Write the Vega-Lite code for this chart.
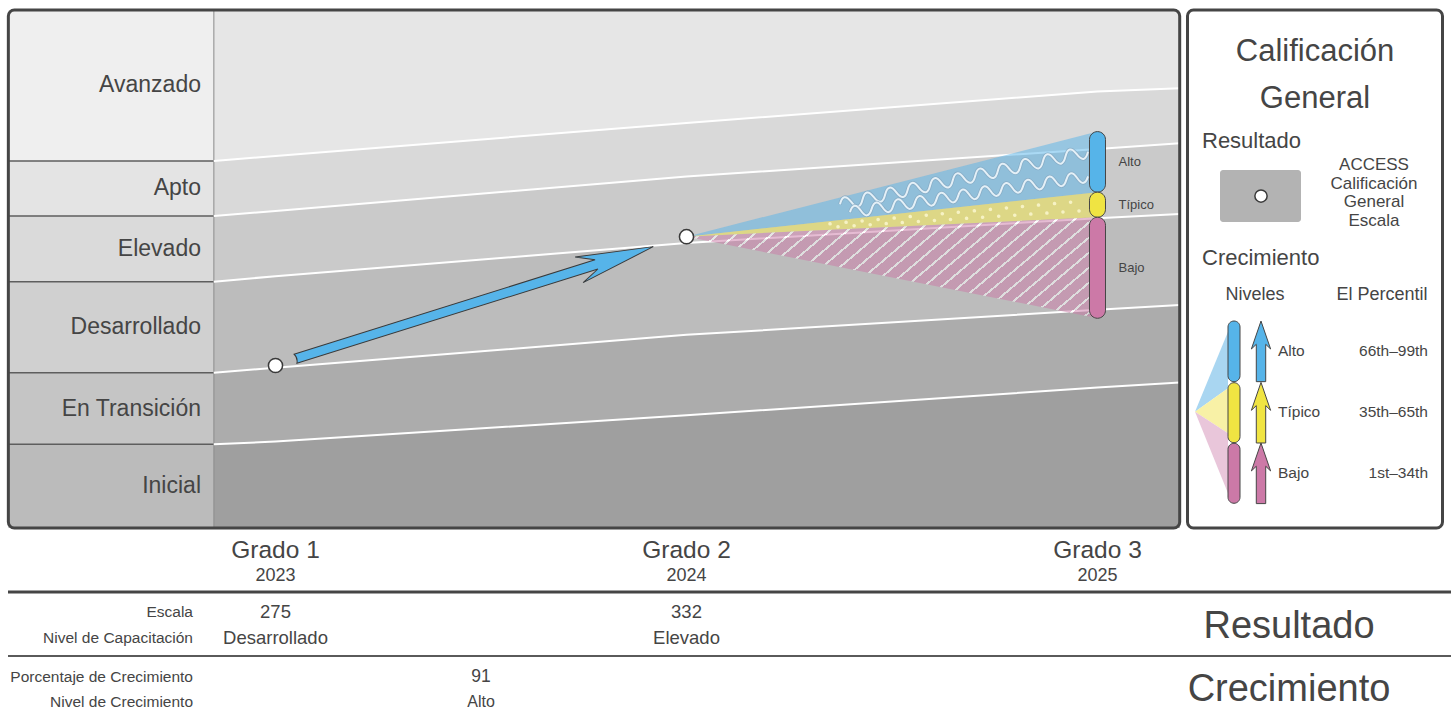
{
  "$schema": "https://vega.github.io/schema/vega-lite/v6.json",
  "width": 1451,
  "height": 715,
  "padding": 0,
  "autosize": {"type": "none"},
  "background": "#ffffff",
  "config": {
    "view": {"stroke": null},
    "axis": {"disable": true},
    "legend": {"disable": true},
    "text": {"font": "Liberation Sans", "color": "#454545"}
  },
  "resolve": {"scale": {"color": "independent"}},
  "datasets": {
    "bands": [
      {"level": "Avanzado", "g": 0.85, "lo": 365.53, "hi": 432.3},
      {"level": "Avanzado", "g": 1, "lo": 367.74, "hi": 432.3},
      {"level": "Avanzado", "g": 2, "lo": 382.3, "hi": 432.3},
      {"level": "Avanzado", "g": 3, "lo": 396.28, "hi": 432.3},
      {"level": "Avanzado", "g": 3.2, "lo": 397.65, "hi": 432.3},
      {"level": "Apto", "g": 0.85, "lo": 341.15, "hi": 365.53},
      {"level": "Apto", "g": 1, "lo": 343.41, "hi": 367.74},
      {"level": "Apto", "g": 2, "lo": 358.63, "hi": 382.3},
      {"level": "Apto", "g": 3, "lo": 370.84, "hi": 396.28},
      {"level": "Apto", "g": 3.2, "lo": 373.36, "hi": 397.65},
      {"level": "Elevado", "g": 0.85, "lo": 312.08, "hi": 341.15},
      {"level": "Elevado", "g": 1, "lo": 314.51, "hi": 343.41},
      {"level": "Elevado", "g": 2, "lo": 329.2, "hi": 358.63},
      {"level": "Elevado", "g": 3, "lo": 340.18, "hi": 370.84},
      {"level": "Elevado", "g": 3.2, "lo": 342.04, "hi": 373.36},
      {"level": "Desarrollado", "g": 0.85, "lo": 271.81, "hi": 312.08},
      {"level": "Desarrollado", "g": 1, "lo": 273.98, "hi": 314.51},
      {"level": "Desarrollado", "g": 2, "lo": 288.56, "hi": 329.2},
      {"level": "Desarrollado", "g": 3, "lo": 299.65, "hi": 340.18},
      {"level": "Desarrollado", "g": 3.2, "lo": 301.81, "hi": 342.04},
      {"level": "En Transición", "g": 0.85, "lo": 240.13, "hi": 271.81},
      {"level": "En Transición", "g": 1, "lo": 241.37, "hi": 273.98},
      {"level": "En Transición", "g": 2, "lo": 252.96, "hi": 288.56},
      {"level": "En Transición", "g": 3, "lo": 265.22, "hi": 299.65},
      {"level": "En Transición", "g": 3.2, "lo": 267.43, "hi": 301.81},
      {"level": "Inicial", "g": 0.85, "lo": 203.1, "hi": 240.13},
      {"level": "Inicial", "g": 1, "lo": 203.1, "hi": 241.37},
      {"level": "Inicial", "g": 2, "lo": 203.1, "hi": 252.96},
      {"level": "Inicial", "g": 3, "lo": 203.1, "hi": 265.22},
      {"level": "Inicial", "g": 3.2, "lo": 203.1, "hi": 267.43}
    ],
    "growth": [
      {"level": "Alto", "g": 2, "lo": 332, "hi": 332},
      {"level": "Alto", "g": 3, "lo": 351.7, "hi": 378.5},
      {"level": "Típico", "g": 2, "lo": 332, "hi": 332},
      {"level": "Típico", "g": 3, "lo": 340.6, "hi": 351.7},
      {"level": "Bajo", "g": 2, "lo": 332, "hi": 332},
      {"level": "Bajo", "g": 3, "lo": 295.9, "hi": 340.6}
    ],
    "student": [
      {"g": 1, "grado": "Grado 1", "year": "2023", "score": 275, "nivel": "Desarrollado"},
      {"g": 2, "grado": "Grado 2", "year": "2024", "score": 332, "nivel": "Elevado"},
      {"g": 3, "grado": "Grado 3", "year": "2025", "score": null, "nivel": ""}
    ]
  },
  "layer": [
    {
      "data": {"name": "bands"},
      "mark": {"type": "area"},
      "encoding": {
        "x": {"field": "g", "type": "quantitative", "scale": {"domain": [0.32968, 3.8601], "nice": false, "zero": false, "padding": 0}},
        "y": {"field": "hi", "type": "quantitative", "scale": {"domain": [120.35, 436.73], "nice": false, "zero": false, "padding": 0}},
        "y2": {"field": "lo"},
        "color": {"field": "level", "type": "nominal", "scale": {"domain": ["Avanzado", "Apto", "Elevado", "Desarrollado", "En Transición", "Inicial"], "range": ["#e6e6e6", "#d9d9d9", "#cacaca", "#bcbcbc", "#acacac", "#9f9f9f"]}}
      }
    },
    {
      "data": {"name": "bands"},
      "transform": [{"filter": "datum.g == 0.85"}],
      "mark": {"type": "rect"},
      "encoding": {
        "x": {"datum": 0.35, "type": "quantitative"},
        "x2": {"datum": 0.85},
        "y": {"field": "hi", "type": "quantitative"},
        "y2": {"field": "lo"},
        "color": {"field": "level", "type": "nominal", "scale": {"domain": ["Avanzado", "Apto", "Elevado", "Desarrollado", "En Transición", "Inicial"], "range": ["#efefef", "#e4e4e4", "#dadada", "#d0d0d0", "#c5c5c5", "#bbbbbb"]}}
      }
    },
    {
      "data": {"name": "bands"},
      "transform": [{"filter": "datum.g == 0.85 && datum.level != 'Inicial'"}],
      "mark": {"type": "rule", "color": "#5e5e5e", "strokeWidth": 1.5},
      "encoding": {
        "x": {"datum": 0.35, "type": "quantitative"},
        "x2": {"datum": 0.85},
        "y": {"field": "lo", "type": "quantitative"}
      }
    },
    {
      "data": {"values": [{}]},
      "mark": {"type": "rule", "color": "#8a8a8a", "strokeWidth": 1},
      "encoding": {
        "x": {"datum": 0.85, "type": "quantitative"},
        "y": {"datum": 203.1, "type": "quantitative"},
        "y2": {"datum": 432.3}
      }
    },
    {
      "data": {"name": "bands"},
      "transform": [{"filter": "datum.g == 0.85"}, {"fold": ["lo", "hi"], "as": ["k", "v"]}],
      "mark": {"type": "text", "align": "right", "baseline": "middle", "fontSize": 23},
      "encoding": {
        "x": {"datum": 0.81873, "type": "quantitative"},
        "y": {"aggregate": "mean", "field": "v", "type": "quantitative"},
        "text": {"field": "level"}
      }
    },
    {
      "data": {"name": "bands"},
      "transform": [{"filter": "datum.level != 'Inicial'"}],
      "mark": {"type": "line", "color": "#ffffff", "strokeWidth": 2},
      "encoding": {
        "x": {"field": "g", "type": "quantitative"},
        "y": {"field": "lo", "type": "quantitative"},
        "detail": {"field": "level"}
      }
    },
    {
      "data": {"name": "growth"},
      "transform": [{"filter": "datum.level != 'Bajo'"}],
      "mark": {"type": "area", "fillOpacity": 0.5},
      "encoding": {
        "x": {"field": "g", "type": "quantitative"},
        "y": {"field": "hi", "type": "quantitative"},
        "y2": {"field": "lo"},
        "color": {"field": "level", "type": "nominal", "scale": {"domain": ["Alto", "Típico"], "range": ["#56b4e9", "#f0e442"]}}
      }
    },
    {
      "data": {"name": "growth"},
      "transform": [{"filter": "datum.level == 'Bajo'"}],
      "mark": {
        "type": "area",
        "fillOpacity": 0.5,
        "fill": {
          "gradient": "linear", "x1": 0, "y1": 0, "x2": 1.2, "y2": 0.3496,
          "stops": [
            {"offset": 0, "color": "#cc79a7"}, {"offset": 0.02767, "color": "#cc79a7"}, {"offset": 0.02767, "color": "#ffffff"}, {"offset": 0.03333, "color": "#ffffff"},
            {"offset": 0.03333, "color": "#cc79a7"}, {"offset": 0.061, "color": "#cc79a7"}, {"offset": 0.061, "color": "#ffffff"}, {"offset": 0.06667, "color": "#ffffff"},
            {"offset": 0.06667, "color": "#cc79a7"}, {"offset": 0.09433, "color": "#cc79a7"}, {"offset": 0.09433, "color": "#ffffff"}, {"offset": 0.1, "color": "#ffffff"},
            {"offset": 0.1, "color": "#cc79a7"}, {"offset": 0.12767, "color": "#cc79a7"}, {"offset": 0.12767, "color": "#ffffff"}, {"offset": 0.13333, "color": "#ffffff"},
            {"offset": 0.13333, "color": "#cc79a7"}, {"offset": 0.161, "color": "#cc79a7"}, {"offset": 0.161, "color": "#ffffff"}, {"offset": 0.16667, "color": "#ffffff"},
            {"offset": 0.16667, "color": "#cc79a7"}, {"offset": 0.19433, "color": "#cc79a7"}, {"offset": 0.19433, "color": "#ffffff"}, {"offset": 0.2, "color": "#ffffff"},
            {"offset": 0.2, "color": "#cc79a7"}, {"offset": 0.22767, "color": "#cc79a7"}, {"offset": 0.22767, "color": "#ffffff"}, {"offset": 0.23333, "color": "#ffffff"},
            {"offset": 0.23333, "color": "#cc79a7"}, {"offset": 0.261, "color": "#cc79a7"}, {"offset": 0.261, "color": "#ffffff"}, {"offset": 0.26667, "color": "#ffffff"},
            {"offset": 0.26667, "color": "#cc79a7"}, {"offset": 0.29433, "color": "#cc79a7"}, {"offset": 0.29433, "color": "#ffffff"}, {"offset": 0.3, "color": "#ffffff"},
            {"offset": 0.3, "color": "#cc79a7"}, {"offset": 0.32767, "color": "#cc79a7"}, {"offset": 0.32767, "color": "#ffffff"}, {"offset": 0.33333, "color": "#ffffff"},
            {"offset": 0.33333, "color": "#cc79a7"}, {"offset": 0.361, "color": "#cc79a7"}, {"offset": 0.361, "color": "#ffffff"}, {"offset": 0.36667, "color": "#ffffff"},
            {"offset": 0.36667, "color": "#cc79a7"}, {"offset": 0.39433, "color": "#cc79a7"}, {"offset": 0.39433, "color": "#ffffff"}, {"offset": 0.4, "color": "#ffffff"},
            {"offset": 0.4, "color": "#cc79a7"}, {"offset": 0.42767, "color": "#cc79a7"}, {"offset": 0.42767, "color": "#ffffff"}, {"offset": 0.43333, "color": "#ffffff"},
            {"offset": 0.43333, "color": "#cc79a7"}, {"offset": 0.461, "color": "#cc79a7"}, {"offset": 0.461, "color": "#ffffff"}, {"offset": 0.46667, "color": "#ffffff"},
            {"offset": 0.46667, "color": "#cc79a7"}, {"offset": 0.49433, "color": "#cc79a7"}, {"offset": 0.49433, "color": "#ffffff"}, {"offset": 0.5, "color": "#ffffff"},
            {"offset": 0.5, "color": "#cc79a7"}, {"offset": 0.52767, "color": "#cc79a7"}, {"offset": 0.52767, "color": "#ffffff"}, {"offset": 0.53333, "color": "#ffffff"},
            {"offset": 0.53333, "color": "#cc79a7"}, {"offset": 0.561, "color": "#cc79a7"}, {"offset": 0.561, "color": "#ffffff"}, {"offset": 0.56667, "color": "#ffffff"},
            {"offset": 0.56667, "color": "#cc79a7"}, {"offset": 0.59433, "color": "#cc79a7"}, {"offset": 0.59433, "color": "#ffffff"}, {"offset": 0.6, "color": "#ffffff"},
            {"offset": 0.6, "color": "#cc79a7"}, {"offset": 0.62767, "color": "#cc79a7"}, {"offset": 0.62767, "color": "#ffffff"}, {"offset": 0.63333, "color": "#ffffff"},
            {"offset": 0.63333, "color": "#cc79a7"}, {"offset": 0.661, "color": "#cc79a7"}, {"offset": 0.661, "color": "#ffffff"}, {"offset": 0.66667, "color": "#ffffff"},
            {"offset": 0.66667, "color": "#cc79a7"}, {"offset": 0.69433, "color": "#cc79a7"}, {"offset": 0.69433, "color": "#ffffff"}, {"offset": 0.7, "color": "#ffffff"},
            {"offset": 0.7, "color": "#cc79a7"}, {"offset": 0.72767, "color": "#cc79a7"}, {"offset": 0.72767, "color": "#ffffff"}, {"offset": 0.73333, "color": "#ffffff"},
            {"offset": 0.73333, "color": "#cc79a7"}, {"offset": 0.761, "color": "#cc79a7"}, {"offset": 0.761, "color": "#ffffff"}, {"offset": 0.76667, "color": "#ffffff"},
            {"offset": 0.76667, "color": "#cc79a7"}, {"offset": 0.79433, "color": "#cc79a7"}, {"offset": 0.79433, "color": "#ffffff"}, {"offset": 0.8, "color": "#ffffff"},
            {"offset": 0.8, "color": "#cc79a7"}, {"offset": 0.82767, "color": "#cc79a7"}, {"offset": 0.82767, "color": "#ffffff"}, {"offset": 0.83333, "color": "#ffffff"},
            {"offset": 0.83333, "color": "#cc79a7"}, {"offset": 0.861, "color": "#cc79a7"}, {"offset": 0.861, "color": "#ffffff"}, {"offset": 0.86667, "color": "#ffffff"},
            {"offset": 0.86667, "color": "#cc79a7"}, {"offset": 0.89433, "color": "#cc79a7"}, {"offset": 0.89433, "color": "#ffffff"}, {"offset": 0.9, "color": "#ffffff"},
            {"offset": 0.9, "color": "#cc79a7"}, {"offset": 0.92767, "color": "#cc79a7"}, {"offset": 0.92767, "color": "#ffffff"}, {"offset": 0.93333, "color": "#ffffff"},
            {"offset": 0.93333, "color": "#cc79a7"}, {"offset": 0.961, "color": "#cc79a7"}, {"offset": 0.961, "color": "#ffffff"}, {"offset": 0.96667, "color": "#ffffff"},
            {"offset": 0.96667, "color": "#cc79a7"}, {"offset": 0.99433, "color": "#cc79a7"}, {"offset": 0.99433, "color": "#ffffff"}, {"offset": 1, "color": "#ffffff"}
          ]
        }
      },
      "encoding": {
        "x": {"field": "g", "type": "quantitative"},
        "y": {"field": "hi", "type": "quantitative"},
        "y2": {"field": "lo"}
      }
    },
    {
      "data": {"values": [{"row": "Alto 1"}]},
      "mark": {"type": "point", "shape": "M-1,0Q-0.95455,-0.0947,-0.90909,0Q-0.86364,0.0947,-0.81818,0Q-0.77273,-0.0947,-0.72727,0Q-0.68182,0.0947,-0.63636,0Q-0.59091,-0.0947,-0.54545,0Q-0.5,0.0947,-0.45455,0Q-0.40909,-0.0947,-0.36364,0Q-0.31818,0.0947,-0.27273,0Q-0.22727,-0.0947,-0.18182,0Q-0.13636,0.0947,-0.09091,0Q-0.04545,-0.0947,0,0Q0.04545,0.0947,0.09091,0Q0.13636,-0.0947,0.18182,0Q0.22727,0.0947,0.27273,0Q0.31818,-0.0947,0.36364,0Q0.40909,0.0947,0.45455,0Q0.5,-0.0947,0.54545,0Q0.59091,0.0947,0.63636,0Q0.68182,-0.0947,0.72727,0Q0.77273,0.0947,0.81818,0Q0.86364,-0.0947,0.90909,0Q0.95455,0.0947,1,0", "size": 64262, "angle": 348.06, "filled": false, "fill": null, "stroke": "#86a9c2", "strokeWidth": 3.6, "opacity": 0.8},
      "encoding": {"x": {"datum": 2.67518, "type": "quantitative"}, "y": {"datum": 357.94, "type": "quantitative"}}
    },
    {
      "data": {"values": [{"row": "Alto 1"}]},
      "mark": {"type": "point", "shape": "M-1,0Q-0.95455,-0.0947,-0.90909,0Q-0.86364,0.0947,-0.81818,0Q-0.77273,-0.0947,-0.72727,0Q-0.68182,0.0947,-0.63636,0Q-0.59091,-0.0947,-0.54545,0Q-0.5,0.0947,-0.45455,0Q-0.40909,-0.0947,-0.36364,0Q-0.31818,0.0947,-0.27273,0Q-0.22727,-0.0947,-0.18182,0Q-0.13636,0.0947,-0.09091,0Q-0.04545,-0.0947,0,0Q0.04545,0.0947,0.09091,0Q0.13636,-0.0947,0.18182,0Q0.22727,0.0947,0.27273,0Q0.31818,-0.0947,0.36364,0Q0.40909,0.0947,0.45455,0Q0.5,-0.0947,0.54545,0Q0.59091,0.0947,0.63636,0Q0.68182,-0.0947,0.72727,0Q0.77273,0.0947,0.81818,0Q0.86364,-0.0947,0.90909,0Q0.95455,0.0947,1,0", "size": 64262, "angle": 348.06, "filled": false, "fill": null, "stroke": "#e4f0f7", "strokeWidth": 2, "opacity": 1},
      "encoding": {"x": {"datum": 2.67518, "type": "quantitative"}, "y": {"datum": 357.94, "type": "quantitative"}}
    },
    {
      "data": {"values": [{"row": "Alto 2"}]},
      "mark": {"type": "point", "shape": "M-1,0Q-0.95455,-0.0947,-0.90909,0Q-0.86364,0.0947,-0.81818,0Q-0.77273,-0.0947,-0.72727,0Q-0.68182,0.0947,-0.63636,0Q-0.59091,-0.0947,-0.54545,0Q-0.5,0.0947,-0.45455,0Q-0.40909,-0.0947,-0.36364,0Q-0.31818,0.0947,-0.27273,0Q-0.22727,-0.0947,-0.18182,0Q-0.13636,0.0947,-0.09091,0Q-0.04545,-0.0947,0,0Q0.04545,0.0947,0.09091,0Q0.13636,-0.0947,0.18182,0Q0.22727,0.0947,0.27273,0Q0.31818,-0.0947,0.36364,0Q0.40909,0.0947,0.45455,0Q0.5,-0.0947,0.54545,0Q0.59091,0.0947,0.63636,0Q0.68182,-0.0947,0.72727,0Q0.77273,0.0947,0.81818,0Q0.86364,-0.0947,0.90909,0Q0.95455,0.0947,1,0", "size": 57936, "angle": 351.46, "filled": false, "fill": null, "stroke": "#86a9c2", "strokeWidth": 3.6, "opacity": 0.8},
      "encoding": {"x": {"datum": 2.68735, "type": "quantitative"}, "y": {"datum": 350.76, "type": "quantitative"}}
    },
    {
      "data": {"values": [{"row": "Alto 2"}]},
      "mark": {"type": "point", "shape": "M-1,0Q-0.95455,-0.0947,-0.90909,0Q-0.86364,0.0947,-0.81818,0Q-0.77273,-0.0947,-0.72727,0Q-0.68182,0.0947,-0.63636,0Q-0.59091,-0.0947,-0.54545,0Q-0.5,0.0947,-0.45455,0Q-0.40909,-0.0947,-0.36364,0Q-0.31818,0.0947,-0.27273,0Q-0.22727,-0.0947,-0.18182,0Q-0.13636,0.0947,-0.09091,0Q-0.04545,-0.0947,0,0Q0.04545,0.0947,0.09091,0Q0.13636,-0.0947,0.18182,0Q0.22727,0.0947,0.27273,0Q0.31818,-0.0947,0.36364,0Q0.40909,0.0947,0.45455,0Q0.5,-0.0947,0.54545,0Q0.59091,0.0947,0.63636,0Q0.68182,-0.0947,0.72727,0Q0.77273,0.0947,0.81818,0Q0.86364,-0.0947,0.90909,0Q0.95455,0.0947,1,0", "size": 57936, "angle": 351.46, "filled": false, "fill": null, "stroke": "#e4f0f7", "strokeWidth": 2, "opacity": 1},
      "encoding": {"x": {"datum": 2.68735, "type": "quantitative"}, "y": {"datum": 350.76, "type": "quantitative"}}
    },
    {
      "data": {"values": [{"row": "Típico 1"}]},
      "mark": {"type": "rule", "color": "#f6f2c4", "strokeWidth": 3.5, "strokeCap": "round", "strokeDash": [0.1, 16]},
      "encoding": {"x": {"datum": 2.34915, "type": "quantitative"}, "x2": {"datum": 2.96959}, "y": {"datum": 337.7, "type": "quantitative"}, "y2": {"datum": 347.85}}
    },
    {
      "data": {"values": [{"row": "Típico 2"}]},
      "mark": {"type": "rule", "color": "#f6f2c4", "strokeWidth": 3.5, "strokeCap": "round", "strokeDash": [0.1, 16]},
      "encoding": {"x": {"datum": 2.36861, "type": "quantitative"}, "x2": {"datum": 2.96959}, "y": {"datum": 336.38, "type": "quantitative"}, "y2": {"datum": 343.56}}
    },
    {
      "data": {"name": "growth"},
      "transform": [{"filter": "datum.g == 3"}],
      "mark": {"type": "bar", "width": 16, "cornerRadius": 8, "stroke": "#454545", "strokeWidth": 1},
      "encoding": {
        "x": {"field": "g", "type": "quantitative"},
        "y": {"field": "hi", "type": "quantitative"},
        "y2": {"field": "lo"},
        "color": {"field": "level", "type": "nominal", "scale": {"domain": ["Alto", "Típico", "Bajo"], "range": ["#56b4e9", "#f0e442", "#cc79a7"]}}
      }
    },
    {
      "data": {"name": "growth"},
      "transform": [{"filter": "datum.g == 3"}, {"fold": ["lo", "hi"], "as": ["k", "v"]}],
      "mark": {"type": "text", "align": "left", "baseline": "middle", "dx": 21, "fontSize": 13},
      "encoding": {
        "x": {"field": "g", "type": "quantitative"},
        "y": {"aggregate": "mean", "field": "v", "type": "quantitative"},
        "text": {"field": "level"}
      }
    },
    {
      "data": {"values": [{"desde": "Grado 1", "hasta": "Grado 2"}]},
      "mark": {"type": "point", "shape": "M1,0L0.5856,-0.0715L0.6827,-0.0256L-1,-0.0256Q-0.985,0,-1,0.0256L0.6827,0.0256L0.5856,0.0715Z", "size": 140625, "angle": 342.6, "filled": true, "fill": "#56b4e9", "stroke": "#3a3a3a", "strokeWidth": 1, "opacity": 1},
      "encoding": {
        "x": {"datum": 1.48382, "type": "quantitative"},
        "y": {"datum": 302.79, "type": "quantitative"}
      }
    },
    {
      "data": {"name": "student"},
      "transform": [{"filter": "isValid(datum.score)"}],
      "mark": {"type": "point", "shape": "circle", "size": 200, "filled": true, "fill": "#ffffff", "stroke": "#3a3a3a", "strokeWidth": 1.5, "opacity": 1},
      "encoding": {
        "x": {"field": "g", "type": "quantitative"},
        "y": {"field": "score", "type": "quantitative"}
      }
    },
    {
      "data": {"values": [{}]},
      "mark": {"type": "rect", "filled": false, "stroke": "#454545", "strokeWidth": 3, "cornerRadius": 6},
      "encoding": {
        "x": {"datum": 0.35, "type": "quantitative"},
        "x2": {"datum": 3.2},
        "y": {"datum": 432.3, "type": "quantitative"},
        "y2": {"datum": 203.1}
      }
    },
    {
      "data": {"values": [{}]},
      "mark": {"type": "rect", "fill": "#ffffff", "stroke": "#454545", "strokeWidth": 3, "cornerRadius": 6},
      "encoding": {
        "x": {"datum": 3.21898, "type": "quantitative"},
        "x2": {"datum": 3.83942},
        "y": {"datum": 432.3, "type": "quantitative"},
        "y2": {"datum": 203.1}
      }
    },
    {
      "data": {"values": [{"t": "Calificación"}]},
      "mark": {"type": "text", "align": "center", "baseline": "middle", "fontSize": 31},
      "encoding": {"x": {"datum": 3.5292, "type": "quantitative"}, "y": {"datum": 413.72, "type": "quantitative"}, "text": {"field": "t"}}
    },
    {
      "data": {"values": [{"t": "General"}]},
      "mark": {"type": "text", "align": "center", "baseline": "middle", "fontSize": 31},
      "encoding": {"x": {"datum": 3.5292, "type": "quantitative"}, "y": {"datum": 392.92, "type": "quantitative"}, "text": {"field": "t"}}
    },
    {
      "data": {"values": [{"t": "Resultado"}]},
      "mark": {"type": "text", "align": "left", "baseline": "middle", "fontSize": 22},
      "encoding": {"x": {"datum": 3.25426, "type": "quantitative"}, "y": {"datum": 374.56, "type": "quantitative"}, "text": {"field": "t"}}
    },
    {
      "data": {"values": [{}]},
      "mark": {"type": "rect", "fill": "#b3b3b3", "cornerRadius": 3},
      "encoding": {
        "x": {"datum": 3.29805, "type": "quantitative"},
        "x2": {"datum": 3.49513},
        "y": {"datum": 361.5, "type": "quantitative"},
        "y2": {"datum": 338.5}
      }
    },
    {
      "data": {"values": [{}]},
      "mark": {"type": "point", "shape": "circle", "size": 150, "filled": true, "fill": "#ffffff", "stroke": "#3a3a3a", "strokeWidth": 1.5, "opacity": 1},
      "encoding": {"x": {"datum": 3.39781, "type": "quantitative"}, "y": {"datum": 350, "type": "quantitative"}}
    },
    {
      "data": {"values": [{"t": "ACCESS\nCalificación\nGeneral\nEscala"}]},
      "mark": {"type": "text", "align": "center", "baseline": "alphabetic", "fontSize": 17, "lineHeight": 18.7, "lineBreak": "\n"},
      "encoding": {"x": {"datum": 3.67275, "type": "quantitative"}, "y": {"datum": 361.46, "type": "quantitative"}, "text": {"field": "t"}}
    },
    {
      "data": {"values": [{"t": "Crecimiento"}]},
      "mark": {"type": "text", "align": "left", "baseline": "middle", "fontSize": 22},
      "encoding": {"x": {"datum": 3.25426, "type": "quantitative"}, "y": {"datum": 322.57, "type": "quantitative"}, "text": {"field": "t"}}
    },
    {
      "data": {"values": [{"t": "Niveles"}]},
      "mark": {"type": "text", "align": "center", "baseline": "middle", "fontSize": 18},
      "encoding": {"x": {"datum": 3.38321, "type": "quantitative"}, "y": {"datum": 306.19, "type": "quantitative"}, "text": {"field": "t"}}
    },
    {
      "data": {"values": [{"t": "El Percentil"}]},
      "mark": {"type": "text", "align": "center", "baseline": "middle", "fontSize": 18},
      "encoding": {"x": {"datum": 3.69221, "type": "quantitative"}, "y": {"datum": 306.19, "type": "quantitative"}, "text": {"field": "t"}}
    },
    {
      "data": {"values": [{"level": "Alto"}]},
      "mark": {"type": "point", "shape": "M0,0L0.66,-1.6L0.66,-0.468Z", "size": 10000, "filled": true, "fill": "#a9d6f1", "stroke": null, "opacity": 1},
      "encoding": {"x": {"datum": 3.23723, "type": "quantitative"}, "y": {"datum": 254.56, "type": "quantitative"}}
    },
    {
      "data": {"values": [{"level": "Típico"}]},
      "mark": {"type": "point", "shape": "M0,0L0.66,-0.468L0.66,0.432Z", "size": 10000, "filled": true, "fill": "#f8f1a6", "stroke": null, "opacity": 1},
      "encoding": {"x": {"datum": 3.23723, "type": "quantitative"}, "y": {"datum": 254.56, "type": "quantitative"}}
    },
    {
      "data": {"values": [{"level": "Bajo"}]},
      "mark": {"type": "point", "shape": "M0,0L0.66,0.432L0.66,1.632Z", "size": 10000, "filled": true, "fill": "#e9c6da", "stroke": null, "opacity": 1},
      "encoding": {"x": {"datum": 3.23723, "type": "quantitative"}, "y": {"datum": 254.56, "type": "quantitative"}}
    },
    {
      "data": {"values": [{"level": "Alto"}]},
      "mark": {"type": "bar", "width": 12, "cornerRadius": 6, "fill": "#56b4e9", "stroke": "#454545", "strokeWidth": 1},
      "encoding": {"x": {"datum": 3.33212, "type": "quantitative"}, "y": {"datum": 294.69, "type": "quantitative"}, "y2": {"datum": 267.83}}
    },
    {
      "data": {"values": [{"level": "Típico"}]},
      "mark": {"type": "bar", "width": 12, "cornerRadius": 6, "fill": "#f0e442", "stroke": "#454545", "strokeWidth": 1},
      "encoding": {"x": {"datum": 3.33212, "type": "quantitative"}, "y": {"datum": 267.39, "type": "quantitative"}, "y2": {"datum": 240.84}}
    },
    {
      "data": {"values": [{"level": "Bajo"}]},
      "mark": {"type": "bar", "width": 12, "cornerRadius": 6, "fill": "#cc79a7", "stroke": "#454545", "strokeWidth": 1},
      "encoding": {"x": {"datum": 3.33212, "type": "quantitative"}, "y": {"datum": 240.58, "type": "quantitative"}, "y2": {"datum": 214.03}}
    },
    {
      "data": {"values": [{"level": "Alto"}]},
      "mark": {"type": "point", "shape": "M0,-1.01L0.32,-0.079L0.157,-0.235L0.157,1.01L-0.157,1.01L-0.157,-0.235L-0.32,-0.079Z", "size": 3600, "filled": true, "fill": "#56b4e9", "stroke": "#454545", "strokeWidth": 1, "opacity": 1},
      "encoding": {"x": {"datum": 3.39781, "type": "quantitative"}, "y": {"datum": 281.26, "type": "quantitative"}}
    },
    {
      "data": {"values": [{"level": "Típico"}]},
      "mark": {"type": "point", "shape": "M0,-1.01L0.32,-0.079L0.157,-0.235L0.157,1.01L-0.157,1.01L-0.157,-0.235L-0.32,-0.079Z", "size": 3600, "filled": true, "fill": "#f0e442", "stroke": "#454545", "strokeWidth": 1, "opacity": 1},
      "encoding": {"x": {"datum": 3.39781, "type": "quantitative"}, "y": {"datum": 254.12, "type": "quantitative"}}
    },
    {
      "data": {"values": [{"level": "Bajo"}]},
      "mark": {"type": "point", "shape": "M0,-1.01L0.32,-0.079L0.157,-0.235L0.157,1.01L-0.157,1.01L-0.157,-0.235L-0.32,-0.079Z", "size": 3600, "filled": true, "fill": "#cc79a7", "stroke": "#454545", "strokeWidth": 1, "opacity": 1},
      "encoding": {"x": {"datum": 3.39781, "type": "quantitative"}, "y": {"datum": 227.3, "type": "quantitative"}}
    },
    {
      "data": {"values": [{"t": "Alto\nTípico\nBajo"}]},
      "mark": {"type": "text", "align": "left", "baseline": "alphabetic", "fontSize": 15.5, "lineHeight": 61, "lineBreak": "\n"},
      "encoding": {"x": {"datum": 3.43917, "type": "quantitative"}, "y": {"datum": 279.36, "type": "quantitative"}, "text": {"field": "t"}}
    },
    {
      "data": {"values": [{"t": "66th–99th\n35th–65th\n1st–34th"}]},
      "mark": {"type": "text", "align": "right", "baseline": "alphabetic", "fontSize": 15.5, "lineHeight": 61, "lineBreak": "\n"},
      "encoding": {"x": {"datum": 3.80414, "type": "quantitative"}, "y": {"datum": 279.36, "type": "quantitative"}, "text": {"field": "t"}}
    },
    {
      "data": {"name": "student"},
      "mark": {"type": "text", "align": "center", "baseline": "middle", "fontSize": 24.5},
      "encoding": {"x": {"field": "g", "type": "quantitative"}, "y": {"datum": 192.92, "type": "quantitative"}, "text": {"field": "grado"}}
    },
    {
      "data": {"name": "student"},
      "mark": {"type": "text", "align": "center", "baseline": "middle", "fontSize": 18},
      "encoding": {"x": {"field": "g", "type": "quantitative"}, "y": {"datum": 181.86, "type": "quantitative"}, "text": {"field": "year"}}
    },
    {
      "data": {"values": [{}]},
      "mark": {"type": "rule", "color": "#454545", "strokeWidth": 3, "strokeCap": "butt"},
      "encoding": {"x": {"datum": 0.34915, "type": "quantitative"}, "x2": {"datum": 3.8601}, "y": {"datum": 174.78, "type": "quantitative"}}
    },
    {
      "data": {"values": [{}]},
      "mark": {"type": "rule", "color": "#5a5a5a", "strokeWidth": 2, "strokeCap": "butt"},
      "encoding": {"x": {"datum": 0.34915, "type": "quantitative"}, "x2": {"datum": 3.8601}, "y": {"datum": 146.46, "type": "quantitative"}}
    },
    {
      "data": {"values": [{"t": "Escala"}]},
      "mark": {"type": "text", "align": "right", "baseline": "middle", "fontSize": 15.5},
      "encoding": {"x": {"datum": 0.79927, "type": "quantitative"}, "y": {"datum": 165.93, "type": "quantitative"}, "text": {"field": "t"}}
    },
    {
      "data": {"values": [{"t": "Nivel de Capacitación"}]},
      "mark": {"type": "text", "align": "right", "baseline": "middle", "fontSize": 15.5},
      "encoding": {"x": {"datum": 0.79927, "type": "quantitative"}, "y": {"datum": 154.42, "type": "quantitative"}, "text": {"field": "t"}}
    },
    {
      "data": {"values": [{"t": "Porcentaje de Crecimiento"}]},
      "mark": {"type": "text", "align": "right", "baseline": "middle", "fontSize": 15.5},
      "encoding": {"x": {"datum": 0.79927, "type": "quantitative"}, "y": {"datum": 137.17, "type": "quantitative"}, "text": {"field": "t"}}
    },
    {
      "data": {"values": [{"t": "Nivel de Crecimiento"}]},
      "mark": {"type": "text", "align": "right", "baseline": "middle", "fontSize": 15.5},
      "encoding": {"x": {"datum": 0.79927, "type": "quantitative"}, "y": {"datum": 126.11, "type": "quantitative"}, "text": {"field": "t"}}
    },
    {
      "data": {"name": "student"},
      "transform": [{"filter": "isValid(datum.score)"}],
      "mark": {"type": "text", "align": "center", "baseline": "middle", "fontSize": 18.5},
      "encoding": {"x": {"field": "g", "type": "quantitative"}, "y": {"datum": 165.93, "type": "quantitative"}, "text": {"field": "score", "type": "quantitative"}}
    },
    {
      "data": {"name": "student"},
      "transform": [{"filter": "isValid(datum.score)"}],
      "mark": {"type": "text", "align": "center", "baseline": "middle", "fontSize": 18.5},
      "encoding": {"x": {"field": "g", "type": "quantitative"}, "y": {"datum": 154.42, "type": "quantitative"}, "text": {"field": "nivel"}}
    },
    {
      "data": {"values": [{"g": 1.5, "pct": 91, "nivel": "Alto"}]},
      "mark": {"type": "text", "align": "center", "baseline": "middle", "fontSize": 17.5},
      "encoding": {"x": {"field": "g", "type": "quantitative"}, "y": {"datum": 137.17, "type": "quantitative"}, "text": {"field": "pct", "type": "quantitative"}}
    },
    {
      "data": {"values": [{"g": 1.5, "pct": 91, "nivel": "Alto"}]},
      "mark": {"type": "text", "align": "center", "baseline": "middle", "fontSize": 16},
      "encoding": {"x": {"field": "g", "type": "quantitative"}, "y": {"datum": 126.11, "type": "quantitative"}, "text": {"field": "nivel"}}
    },
    {
      "data": {"values": [{"t": "Resultado"}]},
      "mark": {"type": "text", "align": "center", "baseline": "middle", "fontSize": 38},
      "encoding": {"x": {"datum": 3.46594, "type": "quantitative"}, "y": {"datum": 159.29, "type": "quantitative"}, "text": {"field": "t"}}
    },
    {
      "data": {"values": [{"t": "Crecimiento"}]},
      "mark": {"type": "text", "align": "center", "baseline": "middle", "fontSize": 38},
      "encoding": {"x": {"datum": 3.46594, "type": "quantitative"}, "y": {"datum": 131.42, "type": "quantitative"}, "text": {"field": "t"}}
    }
  ]
}
